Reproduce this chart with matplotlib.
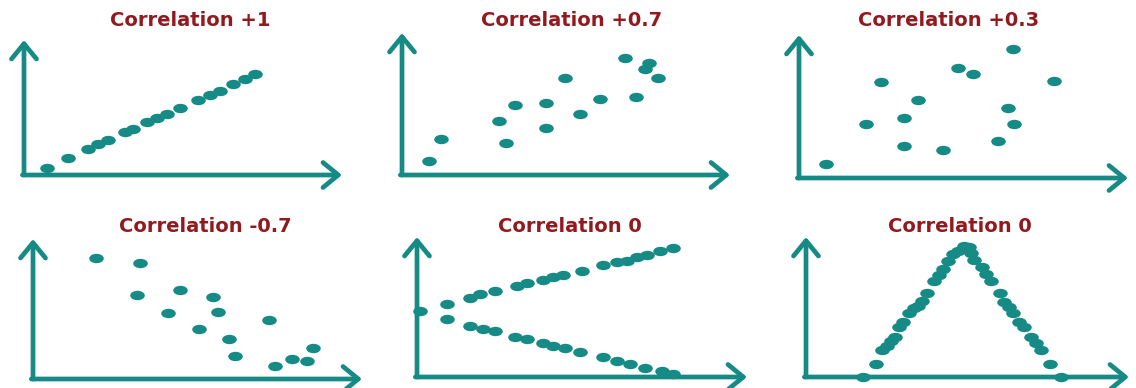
"""Six scatter sketches illustrating correlation coefficients."""
import matplotlib
matplotlib.use("Agg")
import matplotlib.pyplot as plt
from matplotlib.markers import MarkerStyle
from matplotlib.path import Path
from matplotlib.transforms import Affine2D

TEAL = "#168a85"
TITLE_RED = "#921a1e"

titles = ["Correlation +1", "Correlation +0.7", "Correlation +0.3",
          "Correlation -0.7", "Correlation 0", "Correlation 0"]

# point values per panel, 0..100 on both axes
pos1_x = [7.1, 13.7, 20.2, 23.4, 26.5, 31.8, 34.4, 38.6, 41.7, 44.9, 49.1,
          54.8, 58.5, 61.6, 65.8, 69.5, 72.6]
pos1_y = [5.4, 12.4, 19.5, 23.0, 25.9, 31.6, 34.3, 39.0, 42.4, 45.0, 49.4,
          55.6, 59.3, 62.4, 67.2, 70.9, 74.8]

pos07_x = [8.3, 11.8, 29.7, 31.7, 34.5, 43.8, 43.8, 49.7, 54.3, 60.4, 68.0,
           71.3, 74.1, 75.4, 78.0]
pos07_y = [9.9, 25.4, 38.0, 22.7, 49.3, 50.5, 32.9, 68.1, 43.0, 53.3, 82.6,
           54.7, 74.6, 79.1, 68.3]

pos03_x = [8.2, 20.4, 24.9, 31.8, 31.8, 36.3, 43.7, 48.2, 53.0, 60.4, 63.4,
           65.0, 65.4, 77.6]
pos03_y = [9.6, 38.0, 67.1, 22.6, 42.0, 54.5, 19.8, 77.1, 72.7, 26.1, 48.7,
           90.2, 37.6, 68.0]

neg07_x = [19.1, 32.5, 31.5, 44.7, 54.6, 40.9, 56.3, 50.5, 71.8, 59.7, 61.4,
           73.6, 78.8, 83.2, 85.2]
neg07_y = [86.6, 83.1, 60.0, 63.4, 58.6, 47.1, 47.6, 35.5, 42.1, 28.8, 16.2,
           9.5, 14.1, 13.1, 21.9]

fan_x = [0.9,
         9.0, 16.1, 19.1, 23.6, 30.2, 33.2, 38.3, 41.3, 44.3, 49.9, 56.5,
         60.5, 63.5, 66.6, 69.6, 73.6, 77.7,
         9.0, 16.1, 20.1, 23.6, 29.7, 33.2, 38.3, 41.3, 44.8, 49.4, 56.5,
         60.5, 64.5, 69.1, 74.2, 77.7]
fan_y = [46.9,
         52.1, 56.6, 59.3, 61.2, 64.8, 66.9, 69.3, 71.2, 73.1, 75.9, 79.8,
         81.9, 83.1, 85.5, 87.1, 89.8, 91.9,
         41.4, 36.4, 34.3, 32.6, 28.4, 26.9, 24.1, 22.1, 20.5, 18.1, 14.1,
         11.6, 9.3, 6.4, 4.1, 1.9]

peak_x = [17.7, 21.7, 23.5, 25.0, 26.3, 27.6, 28.9, 30.1, 32.0, 33.5, 34.6,
          35.8, 37.4, 39.7, 41.1, 42.3, 43.9, 45.4, 47.0, 49.0, 50.5,
          51.1, 52.1, 54.5, 55.7, 57.3, 60.1, 61.4, 62.8, 64.0, 66.0, 67.6,
          69.7, 71.2, 72.8, 75.5, 78.9]
peak_y = [0.2, 9.1, 19.3, 22.4, 25.9, 28.4, 35.5, 39.1, 45.7, 49.1, 50.9,
          54.1, 59.8, 68.4, 72.9, 77.1, 83.1, 87.9, 90.2, 93.4, 93.0,
          88.4, 83.8, 78.4, 73.6, 68.4, 59.8, 53.4, 49.8, 45.5, 39.1, 35.5,
          28.4, 24.1, 19.5, 9.3, 0.2]

series = [(pos1_x, pos1_y), (pos07_x, pos07_y), (pos03_x, pos03_y),
          (neg07_x, neg07_y), (fan_x, fan_y), (peak_x, peak_y)]

W, H = 1136, 388
# panel origin (x, y) and arrow tips (x, y) in pixels
frames = [(24, 175, 342, 40), (402, 175, 730, 33), (799, 178, 1128, 35),
          (33, 379, 362, 239), (417, 377, 747, 237), (806, 377, 1129, 237)]
title_pos = [(190, 21), (572, 21), (949, 21), (205, 227), (570, 227), (960, 227)]

# the dots in the source are slightly wide ellipses
ellipse = MarkerStyle(Path.unit_circle().transformed(Affine2D().scale(1.55, 1.0)))

fig = plt.figure(figsize=(W / 100, H / 100), dpi=100)
for (x, y), (ox, oy, tx, ty), title, (cx, cy) in zip(series, frames, titles, title_pos):
    ax = fig.add_axes([ox / W, 1 - oy / H, (tx - ox) / W, (oy - ty) / H])
    ax.set_xlim(0, 100)
    ax.set_ylim(0, 100)
    ax.axis("off")
    arrow = dict(arrowstyle="->,head_length=0.55,head_width=0.45", lw=3.4,
                 color=TEAL, mutation_scale=20, shrinkA=0, shrinkB=0)
    ax.annotate("", xy=(0, 1), xytext=(0, 0), xycoords="axes fraction",
                arrowprops=arrow)
    ax.annotate("", xy=(1, 0), xytext=(-0.005, 0), xycoords="axes fraction",
                arrowprops=arrow)
    ax.scatter(x, y, s=110, marker=ellipse, color=TEAL, clip_on=False, zorder=3,
               linewidths=0)
    fig.text(cx / W, 1 - cy / H, title, ha="center", va="center",
             fontsize=14, fontweight="bold", color=TITLE_RED,
             family=["DejaVu Sans"])

fig.savefig("out.png", dpi=100)
